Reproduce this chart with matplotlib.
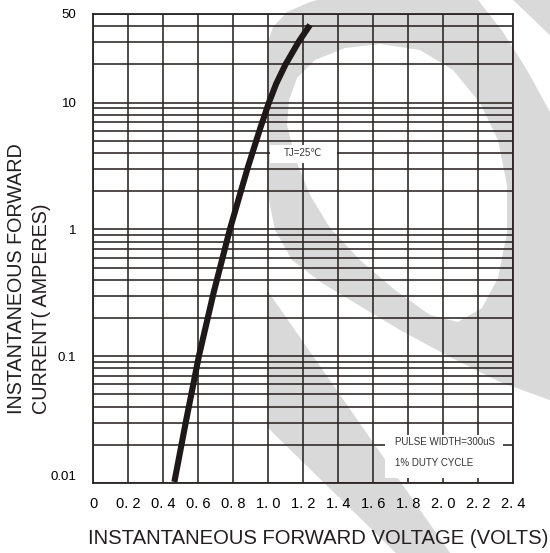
import matplotlib
matplotlib.use("Agg")
import matplotlib.pyplot as plt
import matplotlib.ticker as mticker
from matplotlib.patches import Polygon, Rectangle, PathPatch
from matplotlib.path import Path
from matplotlib.transforms import Affine2D
import numpy as np

# ---------------- data ----------------
voltage = [0.465, 0.533, 0.605, 0.689, 0.782, 0.845, 0.887, 0.956, 1.005,
           1.047, 1.10, 1.174, 1.24]
current = [0.0102, 0.0316, 0.1, 0.316, 1.0, 2.0, 3.16, 6.3, 10.0,
           14.1, 20.0, 30.0, 41.0]

x_ticks = [0, 0.2, 0.4, 0.6, 0.8, 1.0, 1.2, 1.4, 1.6, 1.8, 2.0, 2.2, 2.4]
x_tick_labels = ["0", "0. 2", "0. 4", "0. 6", "0. 8", "1. 0", "1. 2", "1. 4",
                 "1. 6", "1. 8", "2. 0", "2. 2", "2. 4"]
y_ticks = [0.01, 0.1, 1, 10, 50]
y_tick_labels = ["0.01", "0.1", "1", "10", "50"]

x_label = "INSTANTANEOUS FORWARD VOLTAGE (VOLTS)"
y_label_line1 = "INSTANTANEOUS FORWARD"
y_label_line2 = "CURRENT( AMPERES)"
note_tj = "TJ=25\u2103"
note_pulse1 = "PULSE WIDTH=300uS"
note_pulse2 = "1% DUTY CYCLE"

# ---------------- style ----------------
plt.rcParams["font.family"] = ["Liberation Sans", "DejaVu Sans"]
W, H = 550, 553
GRID = "#2a2424"
CURVE = "#1e1918"
WM = "#d9d9d9"

fig = plt.figure(figsize=(W / 100, H / 100), dpi=100)
fig.patch.set_facecolor("white")

# watermark (decorative background), drawn in pixel coordinates
px = Affine2D().scale(1 / W, -1 / H).translate(0, 1) + fig.transFigure
outer = [(267, 45), (273, 27), (287, 12), (310, 2), (340, -6), (400, -12), (470, -8),
         (478, 0), (503, 32), (527, 70), (550, 112), (575, 160), (590, 260),
         (580, 360), (555, 402), (500, 382), (450, 357), (400, 330), (360, 306),
         (322, 283), (292, 260), (275, 230), (267, 190)]
inner = [(287, 125), (289, 100), (297, 78), (315, 60), (345, 48), (380, 44),
         (420, 50), (453, 70), (480, 103), (498, 140), (507, 185), (507, 233),
         (498, 278), (482, 308), (458, 322), (430, 315), (395, 290), (360, 260),
         (330, 228), (310, 195), (296, 160)]
inner_r = inner[::-1]
verts = outer + [outer[0]] + inner_r + [inner_r[0]]
codes = ([Path.MOVETO] + [Path.LINETO] * (len(outer) - 1) + [Path.CLOSEPOLY] +
         [Path.MOVETO] + [Path.LINETO] * (len(inner_r) - 1) + [Path.CLOSEPOLY])
fig.add_artist(PathPatch(Path(verts, codes), facecolor=WM, edgecolor="none",
                         transform=px, zorder=-5))
fig.add_artist(Polygon([(267, 290), (455, 560), (403, 560), (267, 427)],
                       closed=True, facecolor=WM, edgecolor="none",
                       transform=px, zorder=-5))
fig.add_artist(Polygon([(508, -5), (560, -5), (560, 45)], closed=True,
                       facecolor=WM, edgecolor="none", transform=px, zorder=-5))

# axes
ax = fig.add_axes([93 / W, 1 - 483 / H, 420 / W, 469 / H])
ax.set_facecolor("none")
ax.set_yscale("log")
ax.set_xlim(0, 2.4)
ax.set_ylim(0.01, 50)

ax.set_xticks(x_ticks)
ax.set_xticklabels(x_tick_labels, fontsize=10.5)
ax.set_yticks(y_ticks)
ax.set_yticklabels(y_tick_labels, fontsize=9.5)
ax.yaxis.set_minor_locator(mticker.LogLocator(base=10, subs=np.arange(2, 10)))
ax.yaxis.set_minor_formatter(mticker.NullFormatter())
ax.tick_params(which="both", length=0)
ax.tick_params(axis="x", pad=10)
ax.tick_params(axis="y", pad=12)
for lbl in ax.get_yticklabels():
    if lbl.get_text() == "0.01":
        lbl.set_va("bottom")

ax.grid(which="both", axis="y", color=GRID, lw=1.15)
ax.grid(which="major", axis="x", color=GRID, lw=1.15)
for s in ax.spines.values():
    s.set_color(GRID)
    s.set_linewidth(1.3)

ax.plot(voltage, current, color=CURVE, lw=4.4, solid_capstyle="butt",
        solid_joinstyle="round", zorder=5)

# annotation boxes
ax.add_patch(Rectangle((0.421, 0.682), 0.16, 0.039, transform=ax.transAxes,
                       facecolor="white", edgecolor="none", zorder=3))
ax.text(1.2, 4.0, note_tj, fontsize=7, ha="center", va="center", color="#333333",
        zorder=4)
ax.add_patch(Rectangle((0.695, 0.011), 0.281, 0.091, transform=ax.transAxes,
                       facecolor="white", edgecolor="none", zorder=3))
ax.text(0.719, 0.0874, note_pulse1, transform=ax.transAxes, fontsize=7,
        ha="left", va="center", color="#333333", zorder=4)
ax.text(0.719, 0.0426, note_pulse2, transform=ax.transAxes, fontsize=7,
        ha="left", va="center", color="#333333", zorder=4)

# axis titles
fig.text(318 / W, 1 - 539 / H, x_label, fontsize=14.6, ha="center", va="center",
         color="#231f20")
fig.text(17 / W, 1 - 414 / H, y_label_line1, fontsize=14.2, rotation=90,
         ha="center", va="bottom", color="#231f20")
fig.text(42 / W, 1 - 414 / H, y_label_line2, fontsize=14.2, rotation=90,
         ha="center", va="bottom", color="#231f20")

fig.savefig("out.png", dpi=100, facecolor="white")
